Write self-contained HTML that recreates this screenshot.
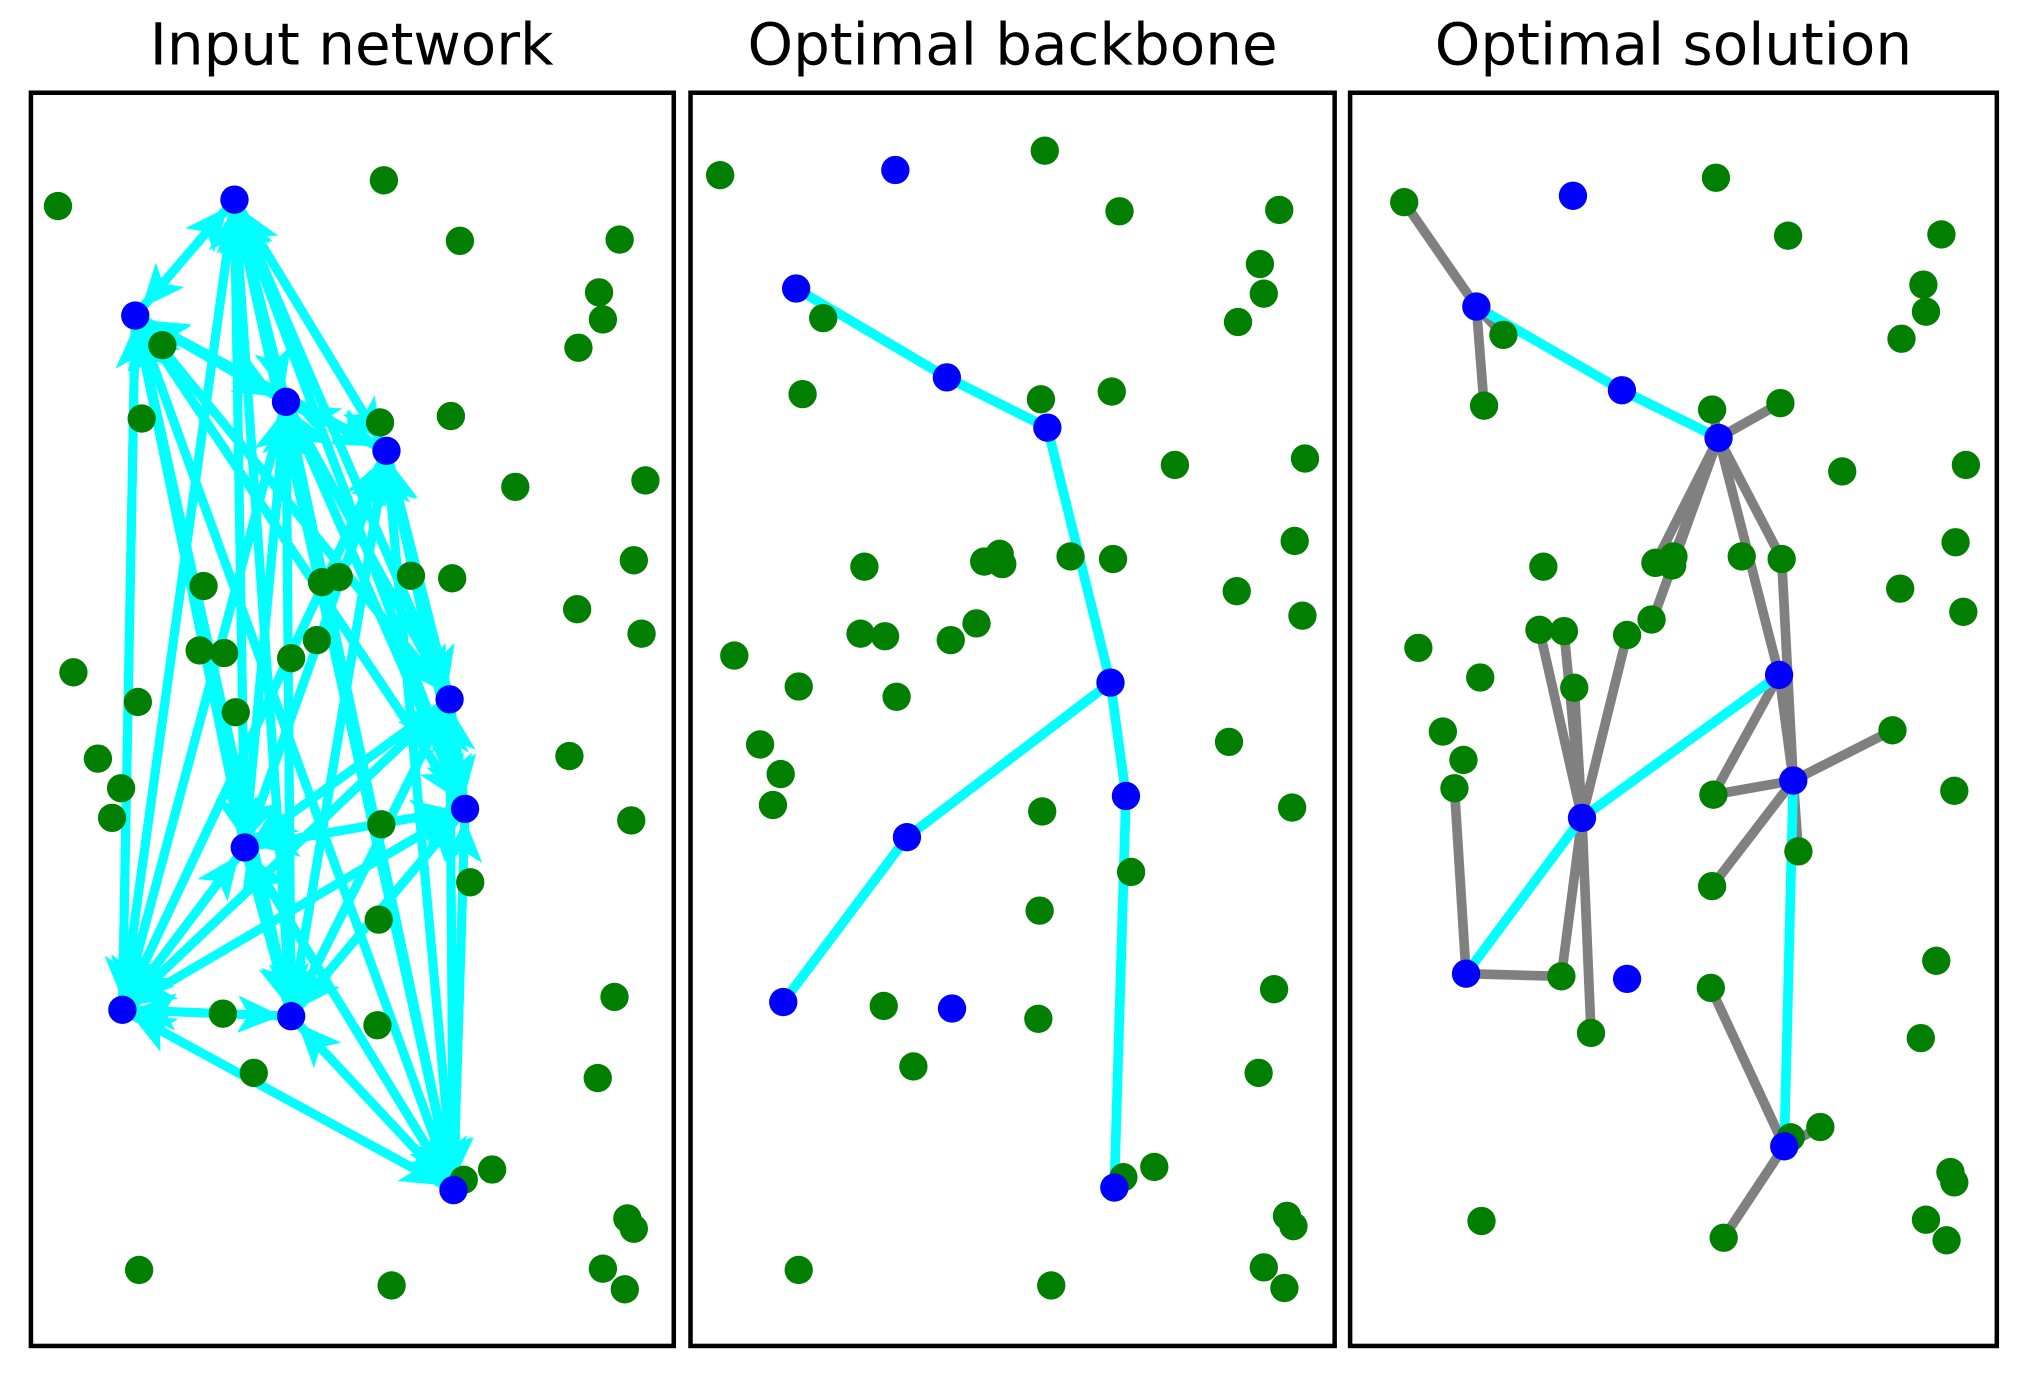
<!DOCTYPE html>
<html><head><meta charset="utf-8"><style>
html,body{margin:0;padding:0;background:#fff;}
svg{display:block;}
</style></head><body>
<svg id="s" width="2020" height="1373" viewBox="0 0 1568 1066" preserveAspectRatio="none" xmlns="http://www.w3.org/2000/svg">
<defs>
<marker id="ar" markerUnits="userSpaceOnUse" markerWidth="34" markerHeight="34" refX="26" refY="12" orient="auto" viewBox="0 0 28 24">
<path d="M0,0 L28,12 L0,24 L7,12 z" fill="#00ffff"/>
</marker>
</defs>
<rect width="1568" height="1066" fill="#fff"/>
<g font-family="DejaVu Sans, Liberation Sans, sans-serif" font-size="45" text-anchor="middle" fill="#000">
<text x="273" y="50">Input network</text>
<text x="786" y="50">Optimal backbone</text>
<text x="1299" y="50">Optimal solution</text>
</g>
<g id="g"></g>
<g fill="none" stroke="#000" stroke-width="3.5">
<rect x="24" y="72" width="499" height="973"/>
<rect x="536" y="72" width="500" height="973"/>
<rect x="1048" y="72" width="502" height="973"/>
</g>
</svg>
<script>
var g=document.getElementById('g'),NS='http://www.w3.org/2000/svg';
function el(t,a){var e=document.createElementNS(NS,t);for(var k in a)e.setAttribute(k,a[k]);g.appendChild(e);return e;}
function line(a,b,c,w,m){el('line',{x1:a[0],y1:a[1],x2:b[0],y2:b[1],stroke:c,'stroke-width':w,'stroke-linecap':'round','marker-end':m?'url(#ar)':''});}
function dots(arr,c){arr.forEach(function(p){el('circle',{cx:p[0],cy:p[1],r:11,fill:c});});}
var b1=[[182,155],[105,245],[222,312],[300,350],[349,543],[361,628],[190,658],[95,784],[226,789],[352,924]];
var g1=[[45,160],[298,140],[357,187],[481,186],[465,227],[468,248],[449,270],[126,268],[110,325],[295,328],[350,323],[400,378],[501,373],[492,435],[448,473],[498,492],[158,455],[250,452],[263,448],[319,447],[351,449],[155,505],[174,507],[246,497],[226,511],[57,522],[107,545],[183,553],[76,589],[94,612],[87,635],[442,587],[490,637],[296,640],[365,685],[294,714],[477,774],[173,787],[293,796],[197,833],[464,837],[382,908],[360,916],[487,946],[492,954],[108,986],[304,998],[468,985],[485,1001]];
for(var i=0;i<b1.length;i++)for(var j=0;j<b1.length;j++){if(i==j)continue;
 var a=b1[i],b=b1[j],dx=b[0]-a[0],dy=b[1]-a[1],d=Math.hypot(dx,dy),t=(d-10)/d;
 line(a,[a[0]+dx*t,a[1]+dy*t],'#00ffff',7,true);}
dots(g1,'#007f00');dots(b1,'#0000ff');
var b2=[[695,132],[618,224],[735,293],[813,332],[862,530],[874,618],[704,650],[608,778],[739,783],[865,922]];
var g2=[[559,136],[811,117],[869,164],[993,163],[978,205],[981,228],[961,250],[639,247],[623,306],[808,310],[863,304],[912,361],[1013,356],[1005,420],[960,459],[1011,478],[671,440],[764,436],[776,430],[778,438],[831,432],[864,434],[668,492],[687,494],[738,497],[758,484],[570,509],[620,533],[696,541],[954,576],[590,578],[606,601],[600,625],[1003,627],[809,630],[878,677],[807,707],[989,768],[686,781],[806,791],[709,828],[977,833],[896,906],[872,914],[999,944],[1004,952],[620,986],[816,998],[981,984],[997,1000]];
[[[618,224],[735,293]],[[735,293],[813,332]],[[813,332],[862,530]],[[862,530],[874,618]],[[874,618],[865,922]],[[862,530],[704,650]],[[704,650],[608,778]]].forEach(function(e){line(e[0],e[1],'#00ffff',7.5);});
dots(g2,'#007f00');dots(b2,'#0000ff');
var b3=[[1221,152],[1146,238],[1259,303],[1334,340],[1381,524],[1392,606],[1228,635],[1138,756],[1263,760],[1385,890]];
var g3=[[1090,157],[1332,138],[1388,183],[1507,182],[1493,221],[1495,242],[1476,263],[1167,260],[1152,315],[1329,318],[1382,313],[1430,366],[1526,361],[1518,421],[1475,457],[1524,475],[1198,440],[1285,437],[1299,432],[1298,439],[1352,432],[1383,434],[1195,489],[1214,490],[1263,493],[1282,481],[1101,503],[1149,526],[1222,534],[1469,567],[1120,568],[1136,590],[1129,612],[1517,614],[1330,617],[1396,661],[1329,688],[1503,746],[1212,758],[1328,767],[1235,802],[1491,806],[1413,875],[1390,883],[1514,910],[1517,918],[1150,948],[1338,961],[1495,947],[1511,963]];
var gr=[[[1090,157],[1146,238]],[[1146,238],[1152,315]],[[1146,238],[1167,260]],[[1334,340],[1329,318]],[[1334,340],[1382,313]],[[1334,340],[1285,437]],[[1334,340],[1299,432]],[[1334,340],[1283,481]],[[1334,340],[1383,434]],[[1383,434],[1392,606]],[[1334,340],[1381,524]],[[1381,524],[1392,606]],[[1381,524],[1330,617]],[[1392,606],[1469,567]],[[1392,606],[1330,617]],[[1392,606],[1329,688]],[[1392,606],[1396,661]],[[1228,635],[1195,489]],[[1228,635],[1214,490]],[[1228,635],[1222,534]],[[1228,635],[1263,493]],[[1228,635],[1212,758]],[[1228,635],[1235,802]],[[1138,756],[1129,612]],[[1138,756],[1212,758]],[[1385,890],[1328,767]],[[1385,890],[1338,961]],[[1385,890],[1413,875]]];
gr.forEach(function(e){line(e[0],e[1],'#808080',7.5);});
[[[1146,238],[1259,303]],[[1259,303],[1334,340]],[[1381,524],[1228,635]],[[1228,635],[1138,756]],[[1392,606],[1385,890]]].forEach(function(e){line(e[0],e[1],'#00ffff',7.5);});
dots(g3,'#007f00');dots(b3,'#0000ff');
</script>
</body></html>
